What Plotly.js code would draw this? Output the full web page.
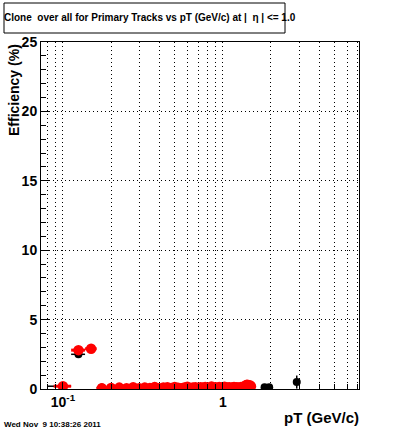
<!DOCTYPE html>
<html><head><meta charset="utf-8">
<script src="https://cdn.plot.ly/plotly-3.0.1.min.js"></script>
<style>body{margin:0;background:#fff}#c{width:400px;height:433px}</style>
</head><body><div id="c"></div>
<script>
// Red series (pT bin centres, GeV/c) and efficiency (%)
const redX = [0.1,0.125,0.15,
 0.175,0.2,0.225,0.25,0.275,0.3,0.325,0.35,0.375,0.4,0.425,0.45,0.475,0.5,0.525,0.55,0.575,0.6,0.625,0.65,0.675,0.7,0.725,0.75,0.775,0.8,0.825,0.85,0.875,0.9,0.925,0.95,0.975,1.0,1.025,1.05,1.075,1.1,1.125,1.15,1.175,1.2,1.225,1.25,1.275,1.3,1.325,1.35,1.375,1.4,1.425,1.45,1.475,1.5];
const redY = [0.2,2.8,2.9,
 0.05,0.08,0.1,0.06,0.12,0.05,0.1,0.08,0.15,0.06,0.1,0.12,0.07,0.14,0.09,0.05,0.11,0.16,0.08,0.1,0.13,0.06,0.12,0.09,0.15,0.07,0.1,0.18,0.08,0.12,0.05,0.14,0.1,0.09,0.16,0.07,0.11,0.13,0.06,0.1,0.15,0.08,0.12,0.09,0.05,0.14,0.1,0.12,0.22,0.28,0.3,0.25,0.27,0.2];
const redXErr = [0.0125,0.0125,0.0125,
 0.0125,0.0125,0.0125,0.0125,0.0125,0.0125,0.0125,0.0125,0.0125,0.0125,0.0125,0.0125,0.0125,0.0125,0.0125,0.0125,0.0125,0.0125,0.0125,0.0125,0.0125,0.0125,0.0125,0.0125,0.0125,0.0125,0.0125,0.0125,0.0125,0.0125,0.0125,0.0125,0.0125,0.0125,0.0125,0.0125,0.0125,0.0125,0.0125,0.0125,0.0125,0.0125,0.0125,0.0125,0.0125,0.0125,0.0125,0.0125,0.0125,0.0125,0.0125,0.0125,0.0125,0.0125];
// Black series
const blackX = [0.1,0.125,0.175,0.25,0.35,0.5,0.7,0.9,1.1,1.275,1.825,1.95,2.9];
const blackY = [0.2,2.5,0.1,0.05,0.04,0.06,0.05,0.07,0.08,0.1,0.12,0.12,0.5];
const blackXErrPlus  = [0.0125,0.0125,0.0125,0.0125,0.0125,0.0125,0.0125,0.0125,0.0125,0.0125,0.05,0.05,0.05];
const blackXErrMinus = [0.02,0.0125,0.0125,0.0125,0.0125,0.0125,0.0125,0.0125,0.0125,0.0125,0.05,0.05,0.05];
const blackYErr = [0,0.15,0,0,0,0,0,0,0,0,0,0,0.47];
// Axis ticks
const xMajorVals = [0.1,1];
const xMajorText = ['10<sup>-1</sup>','1'];
const xMinorVals = [0.08,0.09,0.2,0.3,0.4,0.5,0.6,0.7,0.8,0.9,2,3,4,5,6,7];
const yTickVals = [0,5,10,15,20,25];

const font = {family:'Liberation Sans, Arial, sans-serif', color:'#000'};
const W = 318, H = 347, L = 41, B = 389;
const px = x => (x - L)/W, py = y => (B - y)/H;
const DOT = '1px,3px';

const traces = [
 {x:blackX, y:blackY, type:'scatter', mode:'markers',
  marker:{color:'#000', size:8},
  error_x:{type:'data', array:blackXErrPlus, arrayminus:blackXErrMinus, color:'#000', thickness:1.5, width:0},
  error_y:{type:'data', array:blackYErr, color:'#000', thickness:1.5, width:0},
  hoverinfo:'skip', showlegend:false},
 {x:redX, y:redY, type:'scatter', mode:'markers',
  marker:{color:'#ff0000', size:10.5},
  error_x:{type:'data', array:redXErr, color:'#ff0000', thickness:3, width:0},
  hoverinfo:'skip', showlegend:false}
];

const layout = {
 width:400, height:433, margin:{l:41, r:41, t:42, b:44},
 paper_bgcolor:'#fff', plot_bgcolor:'#fff', showlegend:false,
 xaxis:{type:'log', range:[Math.log10(0.0729), Math.log10(7.11)],
   tickmode:'array', tickvals:xMajorVals, ticktext:xMajorText,
   ticks:'inside', ticklen:7, tickcolor:'#000', tickwidth:1,
   showgrid:true, gridcolor:'#000', griddash:DOT, gridwidth:1,
   minor:{tickmode:'array', tickvals:xMinorVals, ticks:'inside', ticklen:5, tickcolor:'#000',
     showgrid:true, gridcolor:'#000', griddash:DOT, gridwidth:1},
   showline:true, linecolor:'#000', linewidth:1, mirror:true,
   zeroline:false, tickfont:Object.assign({size:14, weight:'bold'}, font)},
 yaxis:{range:[0,25], tickmode:'array', tickvals:yTickVals,
   ticks:'inside', ticklen:9, tickcolor:'#000', tickwidth:1,
   minor:{dtick:1, ticks:'inside', ticklen:5, tickcolor:'#000', showgrid:false},
   showgrid:true, gridcolor:'#000', griddash:DOT, gridwidth:1,
   showline:true, linecolor:'#000', linewidth:1, mirror:true,
   zeroline:false, tickfont:Object.assign({size:14, weight:'bold'}, font)},
 shapes:[{type:'rect', xref:'paper', yref:'paper', x0:px(4), x1:px(285), y0:py(33), y1:py(3),
   line:{color:'#000', width:1}, fillcolor:'rgba(0,0,0,0)'}],
 annotations:[
  {text:'Clone  over all for Primary Tracks vs pT (GeV/c) at |  η | <= 1.0', xref:'paper', yref:'paper',
   x:px(2), y:py(18), xanchor:'left', yanchor:'middle', showarrow:false,
   font:Object.assign({size:10, weight:'bold'}, font)},
  {text:'Efficiency (%)', xref:'paper', yref:'paper', x:px(14), y:1, xanchor:'center', yanchor:'top',
   textangle:-90, showarrow:false, font:Object.assign({size:14, weight:'bold'}, font)},
  {text:'pT (GeV/c)', xref:'paper', yref:'paper', x:px(361), y:py(417.5), xanchor:'right', yanchor:'middle',
   showarrow:false, font:Object.assign({size:15, weight:'bold'}, font)},
  {text:'Wed Nov  9 10:38:26 2011', xref:'paper', yref:'paper', x:px(2), y:py(424), xanchor:'left', yanchor:'middle',
   showarrow:false, font:Object.assign({size:8, weight:'bold'}, font)}
 ]
};
Plotly.newPlot('c', traces, layout, {staticPlot:true, displayModeBar:false});
</script></body></html>
